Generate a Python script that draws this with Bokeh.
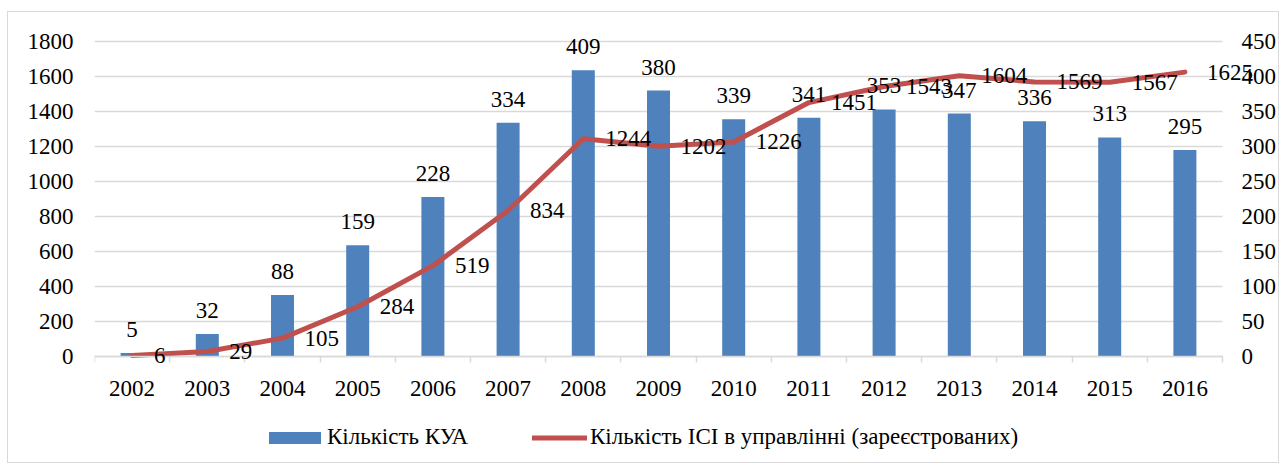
from bokeh.plotting import figure
from bokeh.models import (Range1d, LinearAxis, FixedTicker, ColumnDataSource,
                          LabelSet, Legend, LegendItem)
from bokeh.embed import file_html
from bokeh.resources import INLINE

years = [2002, 2003, 2004, 2005, 2006, 2007, 2008, 2009, 2010, 2011, 2012, 2013, 2014, 2015, 2016]
kua = [5, 32, 88, 159, 228, 334, 409, 380, 339, 341, 353, 347, 336, 313, 295]
ici = [6, 29, 105, 284, 519, 834, 1244, 1202, 1226, 1451, 1543, 1604, 1569, 1567, 1625]
left_ticks = [0, 200, 400, 600, 800, 1000, 1200, 1400, 1600, 1800]
right_ticks = [0, 50, 100, 150, 200, 250, 300, 350, 400, 450]
name_kua = "Кількість КУА"
name_ici = "Кількість ІСІ в управлінні (зареєстрованих)"

FONT = "'Liberation Serif', 'Times New Roman', Times, serif"
FS = "23px"
GRID = "#d9d9d9"
BLUE = "#4F81BD"
RED = "#C0504D"

# layout constants (pixels -> data extents of the frame)
X0, X1 = years[0] - 0.5, years[-1] + 0.5
PX_PER_YEAR = 75.2
PX_PER_UNIT = 0.175
X_END = X1 + 58 / PX_PER_YEAR          # frame extends to the right of the category area
Y_TOP = left_ticks[-1] + 29 / PX_PER_UNIT
Y_BOT = -108 / PX_PER_UNIT
RATIO = left_ticks[-1] / right_ticks[-1]

src = ColumnDataSource(dict(
    year=years, kua=kua, ici=ici,
    kua_txt=[str(v) for v in kua], ici_txt=[str(v) for v in ici],
))
grid_src = ColumnDataSource(dict(y=left_ticks, x0=[X0] * len(left_ticks), x1=[X1] * len(left_ticks)))

p = figure(width=1272, height=452, output_backend="svg", toolbar_location=None,
           x_range=Range1d(X0, X_END), y_range=Range1d(Y_BOT, Y_TOP),
           x_axis_location=None,
           min_border_left=86, min_border_right=0, min_border_top=0,
           min_border_bottom=0)
p.styles = {"border": "1px solid #d9d9d9", "margin-left": "7px", "margin-top": "11px"}
p.extra_y_ranges = {"kua": Range1d(Y_BOT / RATIO, Y_TOP / RATIO)}
p.outline_line_color = None
p.background_fill_color = "white"
p.border_fill_color = "white"
p.xgrid.grid_line_color = None
p.ygrid.grid_line_color = None

# horizontal gridlines limited to the category area
p.segment(x0="x0", x1="x1", y0="y", y1="y", source=grid_src, line_color=GRID, line_width=1.5)

bars = p.vbar(x="year", top="kua", width=0.306, source=src, y_range_name="kua",
              fill_color=BLUE, line_color=None)
ln = p.line(x="year", y="ici", source=src, line_color=RED, line_width=5,
            line_join="round", line_cap="round")

# bottom axis drawn at y = 0
xa = LinearAxis(fixed_location=0, bounds=(X0, X1),
                ticker=FixedTicker(ticks=years, minor_ticks=[y - 0.5 for y in years] + [X1]))
xa.major_tick_line_color = None
xa.major_tick_out = 0
xa.major_tick_in = 0
xa.minor_tick_line_color = GRID
xa.minor_tick_line_width = 1.5
xa.minor_tick_out = 6
xa.minor_tick_in = 0
xa.axis_line_color = GRID
xa.axis_line_width = 1.5
xa.major_label_standoff = 18
xa.major_label_text_font = FONT
xa.major_label_text_font_size = FS
xa.major_label_text_color = "black"
p.add_layout(xa, "below")

p.yaxis.ticker = FixedTicker(ticks=left_ticks)
p.yaxis.axis_line_color = None
p.yaxis.major_tick_line_color = None
p.yaxis.major_tick_out = 0
p.yaxis.minor_tick_line_color = None
p.yaxis.major_label_standoff = 21
p.yaxis.major_label_text_font = FONT
p.yaxis.major_label_text_font_size = FS
p.yaxis.major_label_text_color = "black"

ry = LinearAxis(y_range_name="kua", fixed_location=X1, ticker=FixedTicker(ticks=right_ticks))
ry.axis_line_color = None
ry.major_tick_line_color = None
ry.major_tick_out = 0
ry.minor_tick_line_color = None
ry.major_label_standoff = 19
ry.major_label_text_font = FONT
ry.major_label_text_font_size = FS
ry.major_label_text_color = "black"
p.add_layout(ry, "right")

# data labels
p.add_layout(LabelSet(x="year", y="kua", text="kua_txt", source=src, y_range_name="kua",
                      text_align="center", text_baseline="alphabetic", y_offset=16,
                      text_font=FONT, text_font_size=FS, text_color="black"))
p.add_layout(LabelSet(x="year", y="ici", text="ici_txt", source=src,
                      text_align="left", text_baseline="middle", x_offset=22,
                      text_font=FONT, text_font_size=FS, text_color="black"))

# legends (two, so each sits where the reference has it)
common = dict(orientation="horizontal", glyph_height=15, padding=0, margin=0,
              border_line_color=None, background_fill_alpha=0,
              label_text_font=FONT, label_text_font_size=FS, label_text_color="black")
leg1 = Legend(items=[LegendItem(label=name_kua, renderers=[bars])],
              location=(168, 14), glyph_width=65, label_standoff=0, **common)
leg2 = Legend(items=[LegendItem(label=name_ici, renderers=[ln])],
              location=(438, 14), glyph_width=55, label_standoff=3, **common)
p.add_layout(leg1, "center")
p.add_layout(leg2, "center")

open("out.html", "w").write(file_html(p, INLINE))
